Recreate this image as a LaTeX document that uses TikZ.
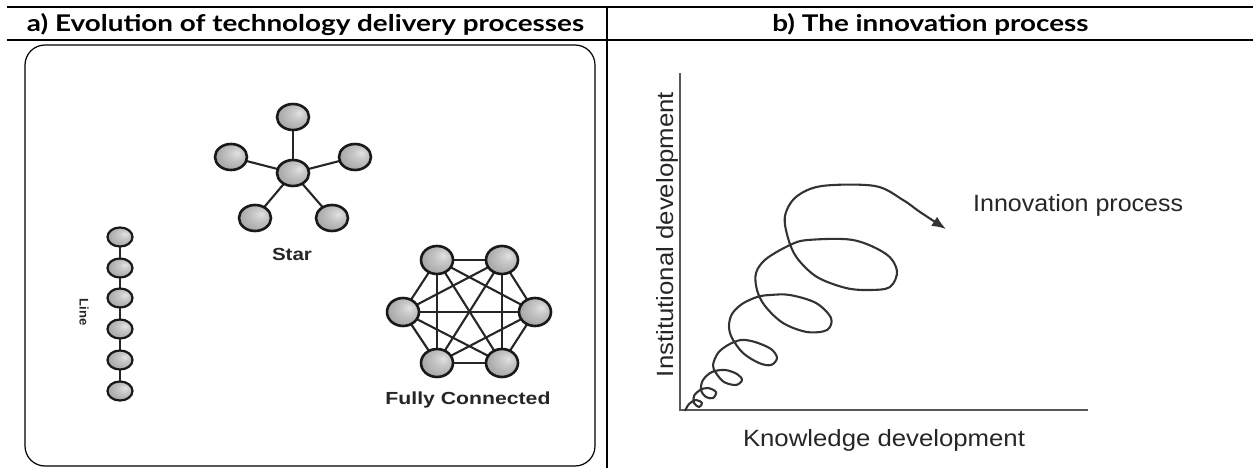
\documentclass[tikz,border=0pt]{standalone}
\usepackage{fontspec}
\usepackage{graphicx}
\setmainfont{Liberation Sans}
\newfontfamily\headfont{Lato}
\usetikzlibrary{arrows.meta,shapes.geometric}

\pgfdeclarelayer{links}
\pgfsetlayers{links,main}

% grey glass-bead fill for the network nodes
\pgfdeclareradialshading{knob}{\pgfpoint{10bp}{8bp}}{%
  color(0bp)=(gray!22); color(10bp)=(gray!42); color(26bp)=(gray!64);
  color(44bp)=(gray!82); color(70bp)=(gray!92)}

% stretch a label horizontally to a given width, keeping its height
\newcommand{\widthto}[2]{\resizebox{#1}{\height}{#2}}
\newcommand{\headsetting}{\headfont\bfseries\fontsize{23}{26}\selectfont}
\newlength{\headwd}

\tikzset{
  x=1pt, y=-1pt,
  rule/.style={line width=1.8pt, black},
  headtext/.style={font=\headsetting, anchor=base, inner sep=0pt},
  bead/.style={ellipse, draw=black!90, line width=2.6pt, shading=knob, inner sep=0pt},
  starbead/.style={bead, minimum width=32pt, minimum height=26pt},
  linebead/.style={bead, line width=2.2pt, minimum width=25pt, minimum height=19pt},
  fullbead/.style={bead, minimum width=32pt, minimum height=28pt},
  link/.style={line width=2.1pt, black!85},
  netlabel/.style={font=\bfseries\fontsize{17.5}{20}\selectfont, text=black!85, inner sep=0pt},
  axis/.style={line width=1.8pt, gray!70!black},
  axlabel/.style={font=\fontsize{23.5}{26}\selectfont, text=black!85, inner sep=0pt},
  spiral/.style={line width=2.1pt, black!80, line join=round},
}

\begin{document}
% both column heads share one horizontal stretch
\settowidth{\headwd}{\headsetting a) Evolution of technology delivery processes}
\pgfmathsetmacro{\headstretch}{557/\headwd}
\begin{tikzpicture}
\useasboundingbox (0,0) rectangle (1253,468);

% table frame
\draw[rule] (7,7) -- (1253,7);
\draw[rule] (7,40) -- (1253,40);
\draw[rule] (607,7) -- (607,468);
\node[headtext] (hdA) at (305.5,32) {\scalebox{\headstretch}[1]{a) Evolution of technology delivery processes}};
\node[headtext] (hdB) at (930.5,32) {\scalebox{\headstretch}[1]{b) The innovation process}};

% ---------- panel a ----------
\draw[line width=1.2pt, rounded corners=20pt] (25,45) rectangle (595,466);

% star
\node[starbead] (s0) at (293,173) {};
\node[starbead] (s1) at (293,117) {};
\node[starbead] (s2) at (231,157) {};
\node[starbead] (s3) at (355,157) {};
\node[starbead] (s4) at (255,218) {};
\node[starbead] (s5) at (332,218) {};
\node[netlabel] (starlbl) at (292,254) {\widthto{40pt}{Star}};
\begin{pgfonlayer}{links}
  \foreach \k in {s1,s2,s3,s4,s5} \draw[link] (s0.center) -- (\k.center);
\end{pgfonlayer}

% line
\foreach \i/\yy in {1/237,2/268,3/298,4/329,5/360,6/391}
  \node[linebead] (l\i) at (120,\yy) {};
\node[netlabel, font=\bfseries\fontsize{12.5}{14}\selectfont, rotate=-90] (linelbl) at (84,312) {\widthto{27pt}{Line}};
\begin{pgfonlayer}{links}
  \foreach \a/\b in {l1/l2,l2/l3,l3/l4,l4/l5,l5/l6} \draw[link, line width=1.7pt] (\a.center) -- (\b.center);
\end{pgfonlayer}

% fully connected
\node[fullbead] (f1) at (437,260) {};
\node[fullbead] (f2) at (502,260) {};
\node[fullbead] (f3) at (535,312) {};
\node[fullbead] (f4) at (502,363) {};
\node[fullbead] (f5) at (437,363) {};
\node[fullbead] (f6) at (403,312) {};
\node[netlabel] (fulllbl) at (468,400) {\widthto{165pt}{Fully Connected}};
\begin{pgfonlayer}{links}
  \foreach \a/\b in {f1/f2,f1/f3,f1/f4,f1/f5,f1/f6,f2/f3,f2/f4,f2/f5,f2/f6,f3/f4,f3/f5,f3/f6,f4/f5,f4/f6,f5/f6}
    \draw[link] (\a.center) -- (\b.center);
\end{pgfonlayer}

% ---------- panel b ----------
\coordinate (ytop) at (680,73);
\coordinate (orig) at (680,410);
\coordinate (xend) at (1088,410);
\draw[axis] (ytop) -- (orig) -- (xend);
\node[axlabel, anchor=base] (kdev) at (884,446) {\widthto{282pt}{Knowledge development}};
\node[axlabel, anchor=base, rotate=90] (idev) at (673,234.5) {\widthto{285pt}{Institutional development}};
\node[axlabel, anchor=base west] (inproc) at (973,211) {\widthto{210pt}{Innovation process}};

\coordinate (tip) at (946,229);
\draw[spiral, -{Latex[length=14pt,width=11pt]}] plot[smooth, tension=0.55] coordinates {
  (685,411) (689,404) (696,400) (702,403) (699,407) (694,403) (694,396)
  (700,390) (708,388) (716,392) (713,398) (706,397) (701,390) (703,380)
  (712,372) (725,370) (737,374) (742,380) (736,385) (724,382) (716,373)
  (713,365) (718,353) (728,345) (741,340) (755,342) (771,349) (777,358)
  (771,365) (759,363) (743,353) (732,338) (729,326) (732,314) (742,304)
  (757,297) (770,295) (790,295) (816,303) (831,318) (827,330) (807,332)
  (783,323) (765,306) (757,290) (756,273) (766,259) (790,245) (808,240)
  (853,240) (886,254) (897,271) (890,287) (870,290) (846,288) (817,277)
  (797,258) (788,238) (785,216) (796,197) (822,186) (875,186) (903,200)
  (920,212) (tip)};
\end{tikzpicture}
\end{document}
